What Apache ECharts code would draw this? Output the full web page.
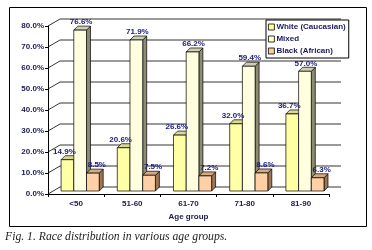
<!DOCTYPE html>
<html>
<head>
<meta charset="utf-8">
<script src="https://cdn.jsdelivr.net/npm/echarts@6/dist/echarts.min.js"></script>
<style>
  html,body{margin:0;padding:0;background:#fff;}
  #chart{width:372px;height:250px;}
</style>
</head>
<body>
<div id="chart"></div>
<script>
/* race distribution by age group - 3D-ish clustered bars */

const categories = ["<50", "51-60", "61-70", "71-80", "81-90"];
const whiteVals = [14.9, 20.6, 26.6, 32.0, 36.7];
const mixedVals = [76.6, 71.9, 66.2, 59.4, 57.0];
const blackVals = [8.5, 7.5, 7.2, 8.6, 6.3];
const yTicks = [0, 10, 20, 30, 40, 50, 60, 70, 80];

const seriesNames = ["White (Caucasian)", "Mixed", "Black (African)"];

const DEPTH = 4;      // bar depth offset
const WALL_DX = 12;   // back wall offset
const WALL_DY = -7;
const LABEL_SHIFT = [-3, 1, 4];

function barBox(api, i, v, k){

    const c = api.coord([i, v]);
    const base = api.coord([i, 0]);
    const cw = api.size([1, 0])[0];
    const bw = cw * 0.226;
    const x0 = c[0] - cw * 0.267 + k * bw;

    return {x0: x0, x1: x0 + bw, y0: c[1] - 3, y1: base[1] - 3, bw: bw};

}

function barRenderer(k, face, side, top){

    return function(params, api){

        const b = barBox(api, api.value(0), api.value(1), k);
        const st = {stroke: "#000", lineWidth: 0.7};

        return {
            type: "group",
            children: [
                {type: "polygon", shape: {points: [[b.x1, b.y0], [b.x1 + DEPTH, b.y0 - DEPTH], [b.x1 + DEPTH, b.y1 - DEPTH], [b.x1, b.y1]]},
                    style: Object.assign({fill: side}, st)},
                {type: "polygon", shape: {points: [[b.x0, b.y0], [b.x0 + DEPTH, b.y0 - DEPTH], [b.x1 + DEPTH, b.y0 - DEPTH], [b.x1, b.y0]]},
                    style: Object.assign({fill: top}, st)},
                {type: "rect", shape: {x: b.x0, y: b.y0, width: b.bw, height: b.y1 - b.y0},
                    style: Object.assign({fill: face}, st)}
            ]
        };

    };

}

const labelData = [];
[whiteVals, mixedVals, blackVals].forEach((arr, k) => {
    arr.forEach((v, i) => labelData.push([i, v, k]));
});

const chart = echarts.init(document.getElementById("chart"));

const option = {

    animation: false,

    grid: {left: 48, right: 43, top: 26, bottom: 56},

    legend: {
        orient: "vertical",
        left: 266,
        top: 20,
        itemWidth: 6,
        itemHeight: 6,
        itemGap: 4,
        padding: [3, 3, 3, 2],
        backgroundColor: "#fff",
        borderColor: "#000",
        borderWidth: 1,
        textStyle: {fontFamily: "Liberation Sans", fontWeight: "bold", fontSize: 8, color: "#1a1a60", padding: [0, 0, 0, -3]},
        data: [
            {name: seriesNames[0], icon: "rect", itemStyle: {color: "#FFFF99", borderColor: "#000", borderWidth: 0.8}},
            {name: seriesNames[1], icon: "rect", itemStyle: {color: "#FFFFCC", borderColor: "#000", borderWidth: 0.8}},
            {name: seriesNames[2], icon: "rect", itemStyle: {color: "#FFCC99", borderColor: "#000", borderWidth: 0.8}}
        ],
        z: 10
    },

    xAxis: {
        type: "category",
        data: categories,
        axisLine: {lineStyle: {color: "#000", width: 1}},
        axisTick: {show: true, length: 3, lineStyle: {color: "#000"}},
        axisLabel: {fontFamily: "Liberation Sans", fontWeight: "bold", fontSize: 8, color: "#1a1a50", margin: 6},
        name: "Age group",
        nameLocation: "middle",
        nameGap: 16,
        nameTextStyle: {fontFamily: "Liberation Sans", fontWeight: "bold", fontSize: 8, color: "#1a1a50"}
    },

    yAxis: {
        type: "value",
        min: 0,
        max: 80,
        interval: 10,
        axisLine: {show: true, lineStyle: {color: "#000", width: 1}},
        axisTick: {show: true, length: 3, lineStyle: {color: "#000"}},
        splitLine: {show: false},
        axisLabel: {fontFamily: "Liberation Sans", fontWeight: "bold", fontSize: 8, color: "#1a1a50", margin: 4,
            formatter: v => v.toFixed(1) + "%"}
    },

    graphic: [
        {type: "rect", left: 7, top: 5, shape: {width: 357, height: 219},
            style: {fill: "none", stroke: "#000", lineWidth: 1}, z: -1},
        {type: "text", left: 5, top: 231,
            style: {text: "Fig. 1. Race distribution in various age groups.", font: "italic 11.7px 'Liberation Serif'", fill: "#222"}}
    ],

    series: [
        {
            type: "custom",
            name: "wall",
            silent: true,
            z: 1,
            data: yTicks.map(v => [0, v]),
            renderItem: function(params, api){
                const cs = params.coordSys;
                const y = api.coord([0, api.value(1)])[1];
                return {
                    type: "polyline",
                    shape: {points: [[cs.x, y], [cs.x + WALL_DX, y + WALL_DY], [cs.x + cs.width + WALL_DX, y + WALL_DY]]},
                    style: {stroke: "#000", lineWidth: 0.8, fill: null}
                };
            }
        },
        {
            type: "custom", name: seriesNames[0], z: 2,
            itemStyle: {color: "#FFFF99"},
            data: whiteVals.map((v, i) => [i, v]),
            renderItem: barRenderer(0, "#FFFFA6", "#8f8f5e", "#d8d898")
        },
        {
            type: "custom", name: seriesNames[1], z: 3,
            itemStyle: {color: "#FFFFCC"},
            data: mixedVals.map((v, i) => [i, v]),
            renderItem: barRenderer(1, "#FFFFE0", "#8c8c72", "#cfcfb4")
        },
        {
            type: "custom", name: seriesNames[2], z: 4,
            itemStyle: {color: "#FFCC99"},
            data: blackVals.map((v, i) => [i, v]),
            renderItem: barRenderer(2, "#FFD0A6", "#9a7656", "#d6aa80")
        },
        {
            type: "custom", name: "labels", z: 6, silent: true,
            data: labelData,
            renderItem: function(params, api){
                const k = api.value(2);
                const v = api.value(1);
                const b = barBox(api, api.value(0), v, k);
                return {
                    type: "text",
                    x: b.x0 + b.bw / 2 + LABEL_SHIFT[k],
                    y: b.y0 - DEPTH - 4,
                    style: {text: v.toFixed(1) + "%", fill: "#1a1a80", font: "bold 8px 'Liberation Sans'",
                        align: "center", verticalAlign: "middle"}
                };
            }
        }
    ]

};

chart.setOption(option);
</script>
</body>
</html>
